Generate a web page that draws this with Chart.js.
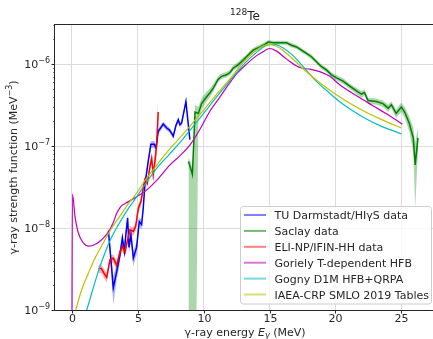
<!DOCTYPE html>
<html>
<head>
<meta charset="utf-8">
<script src="https://cdn.jsdelivr.net/npm/chart.js@4.4.0/dist/chart.umd.min.js"></script>
<style>
  html, body { margin: 0; padding: 0; overflow: hidden; background: #fff; }
</style>
</head>
<body>
<canvas id="strengthChart" width="437" height="339"></canvas>
<script>
// axis ticks
const xTicks = [0, 5, 10, 15, 20, 25];
const yDecades = [1e-9, 1e-8, 1e-7, 1e-6];
const yDecadeLabels = ['\u22129', '\u22128', '\u22127', '\u22126'];

// TU Darmstadt / HIgS (blue)
const tuE  = [2.78, 2.95, 3.15, 3.41, 3.66, 3.84, 3.99, 4.12, 4.24, 4.34, 4.49, 4.67, 4.92, 5.12, 5.3, 5.42, 5.55, 5.8, 6.0, 6.26, 6.39, 6.56, 6.94, 7.2, 7.4, 7.6, 7.7, 7.9, 8.08, 8.2, 8.33, 8.5, 8.66, 8.8, 8.96];
const tuF  = [9.3e-9, 4.5e-9, 1.86e-9, 2.95e-9, 4.7e-9, 7.6e-9, 5.2e-9, 8.9e-9, 1.32e-8, 5.8e-9, 8.3e-9, 4.3e-9, 5.8e-9, 1.2e-8, 1.1e-8, 1.74e-8, 3.4e-8, 6.5e-8, 1.05e-7, 1.05e-7, 9.5e-8, 1.51e-7, 1.86e-7, 1.66e-7, 1.58e-7, 1.41e-7, 1.32e-7, 1.78e-7, 2.1e-7, 1.82e-7, 1.9e-7, 2.6e-7, 3.5e-7, 2.1e-7, 1.2e-7];
const tuLo = [8.0e-9, 3.7e-9, 1.15e-9, 2.3e-9, 3.9e-9, 6.5e-9, 4.3e-9, 7.7e-9, 1.15e-8, 4.8e-9, 7.1e-9, 3.4e-9, 4.8e-9, 1.05e-8, 9.6e-9, 1.55e-8, 3.05e-8, 5.9e-8, 9.5e-8, 9.5e-8, 8.6e-8, 1.38e-7, 1.72e-7, 1.54e-7, 1.47e-7, 1.31e-7, 1.22e-7, 1.66e-7, 1.96e-7, 1.7e-7, 1.77e-7, 2.43e-7, 3.27e-7, 1.95e-7, 1.1e-7];
const tuHi = [1.07e-8, 5.4e-9, 2.6e-9, 3.6e-9, 5.5e-9, 8.7e-9, 6.1e-9, 1.01e-8, 1.5e-8, 6.8e-9, 9.5e-9, 5.2e-9, 6.8e-9, 1.35e-8, 1.24e-8, 1.93e-8, 3.75e-8, 7.1e-8, 1.15e-7, 1.15e-7, 1.04e-7, 1.64e-7, 2.0e-7, 1.78e-7, 1.69e-7, 1.51e-7, 1.42e-7, 1.9e-7, 2.24e-7, 1.94e-7, 2.03e-7, 2.77e-7, 3.73e-7, 2.25e-7, 1.3e-7];

// Saclay (green)
const sacE  = [8.85, 9.15, 9.35, 9.6, 9.85, 10.23, 10.5, 10.73, 11.1, 11.36, 11.74, 12.0, 12.24, 12.62, 13.0, 13.38, 13.76, 14.27, 14.64, 14.9, 15.27, 15.78, 16.29, 16.67, 17.05, 17.42, 17.8, 18.18, 18.56, 18.94, 19.32, 19.7, 20.08, 20.58, 21.08, 21.6, 21.97, 22.2, 22.47, 23.1, 23.6, 24.0, 24.24, 24.6, 25.0, 25.25, 25.6, 25.9, 26.05, 26.26];
const sacF  = [6.5e-8, 4.5e-8, 2.6e-7, 2.5e-7, 3.3e-7, 4.0e-7, 4.5e-7, 5.1e-7, 6.5e-7, 7.1e-7, 7.4e-7, 7.9e-7, 8.9e-7, 9.8e-7, 1.12e-6, 1.29e-6, 1.48e-6, 1.62e-6, 1.74e-6, 1.86e-6, 1.82e-6, 1.82e-6, 1.82e-6, 1.7e-6, 1.62e-6, 1.48e-6, 1.35e-6, 1.23e-6, 1.07e-6, 9.3e-7, 8.5e-7, 7.4e-7, 6.8e-7, 6.2e-7, 5.4e-7, 4.7e-7, 4.3e-7, 4.5e-7, 3.6e-7, 3.5e-7, 3.3e-7, 2.9e-7, 3.2e-7, 2.5e-7, 3.0e-7, 2.6e-7, 1.9e-7, 1.26e-7, 5.9e-8, 1.26e-7];
const sacLo = [1e-11, 1e-11, 1e-11, 2.1e-7, 2.8e-7, 3.5e-7, 4.0e-7, 4.6e-7, 6.0e-7, 6.6e-7, 6.9e-7, 7.3e-7, 8.3e-7, 9.1e-7, 1.04e-6, 1.2e-6, 1.38e-6, 1.52e-6, 1.63e-6, 1.75e-6, 1.72e-6, 1.72e-6, 1.72e-6, 1.6e-6, 1.53e-6, 1.39e-6, 1.27e-6, 1.15e-6, 1.0e-6, 8.7e-7, 7.9e-7, 6.9e-7, 6.3e-7, 5.7e-7, 5.0e-7, 4.3e-7, 3.9e-7, 4.1e-7, 3.3e-7, 3.2e-7, 3.0e-7, 2.6e-7, 2.9e-7, 2.2e-7, 2.6e-7, 2.2e-7, 1.5e-7, 8.5e-8, 1.7e-8, 9.0e-8];
const sacHi = [7.5e-8, 5.5e-8, 3.2e-7, 3.0e-7, 3.9e-7, 4.6e-7, 5.1e-7, 5.7e-7, 7.1e-7, 7.7e-7, 8.0e-7, 8.5e-7, 9.6e-7, 1.06e-6, 1.2e-6, 1.38e-6, 1.58e-6, 1.72e-6, 1.85e-6, 1.97e-6, 1.93e-6, 1.93e-6, 1.93e-6, 1.8e-6, 1.72e-6, 1.57e-6, 1.43e-6, 1.31e-6, 1.14e-6, 9.9e-7, 9.1e-7, 7.9e-7, 7.3e-7, 6.7e-7, 5.8e-7, 5.1e-7, 4.7e-7, 4.9e-7, 3.9e-7, 3.8e-7, 3.6e-7, 3.2e-7, 3.5e-7, 2.8e-7, 3.4e-7, 3.0e-7, 2.3e-7, 1.7e-7, 1.1e-7, 1.7e-7];

// ELI-NP / IFIN-HH (red)
const eliE  = [2.02, 2.25, 2.45, 2.65, 2.9, 3.15, 3.41, 3.66, 3.84, 4.04, 4.21, 4.42, 4.67, 4.85, 5.05, 5.25, 5.42, 5.55, 5.73, 5.93, 6.06, 6.18, 6.31, 6.44, 6.56];
const eliF  = [3.2e-9, 3.2e-9, 2.8e-9, 2.5e-9, 4.1e-9, 4.3e-9, 3.5e-9, 5.1e-9, 6.0e-9, 5.1e-9, 6.9e-9, 9.5e-9, 9.1e-9, 1.05e-8, 1.74e-8, 2.1e-8, 3.1e-8, 3.9e-8, 3.5e-8, 5.6e-8, 7.1e-8, 4.5e-8, 6.5e-8, 1.05e-7, 2.6e-7];
const eliLo = [2.8e-9, 2.8e-9, 2.45e-9, 2.15e-9, 3.6e-9, 3.8e-9, 3.05e-9, 4.5e-9, 5.3e-9, 4.5e-9, 6.1e-9, 8.4e-9, 8.0e-9, 9.3e-9, 1.54e-8, 1.86e-8, 2.75e-8, 3.45e-8, 3.1e-8, 4.9e-8, 6.1e-8, 3.5e-8, 5.2e-8, 8.0e-8, 1.4e-7];
const eliHi = [3.6e-9, 3.6e-9, 3.15e-9, 2.85e-9, 4.6e-9, 4.8e-9, 3.95e-9, 5.7e-9, 6.7e-9, 5.7e-9, 7.7e-9, 1.06e-8, 1.02e-8, 1.17e-8, 1.94e-8, 2.34e-8, 3.45e-8, 4.35e-8, 3.9e-8, 6.3e-8, 8.1e-8, 5.5e-8, 7.8e-8, 1.3e-7, 4.2e-7];

// Goriely T-dependent HFB (magenta)
const gorE = [0, 0.05, 0.25, 0.5, 0.88, 1.26, 1.77, 2.27, 2.78, 3.15, 3.41, 3.66, 4.3, 5.0, 5.55, 6.5, 7.45, 8.2, 9.0, 9.7, 10.5, 11.2, 11.74, 12.5, 13.26, 14.0, 14.5, 15.0, 15.5, 16.3, 17.05, 17.5, 18.05, 18.8, 19.57, 20.33, 21.6, 22.85, 24.1, 25.07];
const gorF = [1e-11, 2.6e-8, 1.38e-8, 8.7e-9, 6.6e-9, 6.0e-9, 6.3e-9, 7.2e-9, 8.9e-9, 1.17e-8, 1.51e-8, 1.78e-8, 2.1e-8, 2.45e-8, 2.8e-8, 3.9e-8, 5.9e-8, 7.6e-8, 1.05e-7, 1.58e-7, 2.7e-7, 3.9e-7, 5.2e-7, 7.6e-7, 1.0e-6, 1.26e-6, 1.41e-6, 1.55e-6, 1.45e-6, 1.15e-6, 9.5e-7, 8.9e-7, 8.7e-7, 8.1e-7, 7.1e-7, 5.6e-7, 4.1e-7, 3.1e-7, 2.35e-7, 1.86e-7];

// Gogny D1M HFB+QRPA (cyan)
const gogE = [0.9, 1.14, 1.5, 2.0, 2.5, 3.0, 3.5, 4.3, 5.0, 5.55, 6.5, 7.45, 8.2, 9.0, 10.0, 11.0, 12.0, 13.0, 14.0, 14.8, 15.4, 16.0, 16.8, 17.5, 18.5, 19.5, 20.5, 22.0, 23.5, 25.0];
const gogF = [7.5e-10, 1.0e-9, 1.58e-9, 2.9e-9, 4.9e-9, 7.6e-9, 1.07e-8, 1.74e-8, 2.5e-8, 3.4e-8, 5.5e-8, 8.1e-8, 1.1e-7, 1.58e-7, 2.5e-7, 4.0e-7, 6.3e-7, 9.8e-7, 1.38e-6, 1.7e-6, 1.74e-6, 1.58e-6, 1.26e-6, 9.5e-7, 6.3e-7, 4.5e-7, 3.3e-7, 2.3e-7, 1.74e-7, 1.41e-7];

// IAEA-CRP SMLO 2019 (olive)
const smloE = [0.3, 0.76, 1.26, 1.77, 2.4, 3.0, 3.8, 4.3, 4.8, 5.55, 6.5, 7.45, 8.2, 9.0, 10.0, 11.0, 12.0, 13.0, 14.0, 14.5, 15.0, 15.5, 16.0, 16.5, 17.0, 17.5, 18.5, 19.5, 20.5, 22.0, 23.5, 25.0];
const smloF = [1.0e-9, 1.78e-9, 2.8e-9, 4.3e-9, 6.6e-9, 9.8e-9, 1.51e-8, 2.0e-8, 2.5e-8, 3.8e-8, 6.0e-8, 9.3e-8, 1.26e-7, 1.78e-7, 2.75e-7, 4.3e-7, 6.6e-7, 1.05e-6, 1.48e-6, 1.66e-6, 1.74e-6, 1.66e-6, 1.48e-6, 1.26e-6, 1.07e-6, 8.9e-7, 6.5e-7, 4.9e-7, 3.8e-7, 2.75e-7, 2.1e-7, 1.66e-7];

const FONT = 'DejaVu Sans';

function pts(xs, ys) {
    return xs.map((x, i) => ({ x: x, y: ys[i] }));
}

function isDecade(v) {
    const l = Math.log10(v);
    return Math.abs(l - Math.round(l)) < 1e-6;
}

// all log ticks (decades + minors) between 1e-9 and 3e-6
const yAllTicks = [];
for (let p = -9; p <= -6; p++) {
    for (let m = 1; m <= 9; m++) {
        const v = m * Math.pow(10, p);
        if (v <= 3.0001e-6) yAllTicks.push(v);
    }
}

function richText(ctx, segs, cx, baseY) {
    let total = 0;
    segs.forEach(s => {
        ctx.font = (s.italic ? 'italic ' : '') + s.size + 'px "' + FONT + '"';
        s.w = ctx.measureText(s.t).width;
        total += s.w;
    });
    let x = cx - total / 2;
    segs.forEach(s => {
        ctx.font = (s.italic ? 'italic ' : '') + s.size + 'px "' + FONT + '"';
        ctx.fillText(s.t, x, baseY + (s.dy || 0));
        x += s.w;
    });
}

const decorations = {
    id: 'decorations',
    afterDraw(chart) {
        const ctx = chart.ctx;
        const a = chart.chartArea;
        const xs = chart.scales.x;
        const ys = chart.scales.y;
        ctx.save();

        // spines
        ctx.strokeStyle = '#262626';
        ctx.lineWidth = 1;
        ctx.strokeRect(a.left - 0.5, a.top - 0.5, a.right - a.left + 1, a.bottom - a.top + 1);

        // x ticks and labels
        ctx.fillStyle = '#262626';
        ctx.textAlign = 'center';
        ctx.textBaseline = 'alphabetic';
        ctx.font = '11px "' + FONT + '"';
        xTicks.forEach(t => {
            const px = Math.round(xs.getPixelForValue(t)) + 0.5;
            ctx.beginPath();
            ctx.moveTo(px, a.bottom);
            ctx.lineTo(px, a.bottom + 3.5);
            ctx.stroke();
            ctx.fillText(String(t), px, 322);
        });

        // y ticks
        yAllTicks.forEach(v => {
            const py = Math.round(ys.getPixelForValue(v)) + 0.5;
            const len = isDecade(v) ? 3.5 : 2;
            ctx.beginPath();
            ctx.moveTo(a.left, py);
            ctx.lineTo(a.left - len, py);
            ctx.lineWidth = isDecade(v) ? 1 : 0.6;
            ctx.stroke();
        });
        ctx.lineWidth = 1;

        // y labels 10^n
        yDecades.forEach((v, i) => {
            const py = ys.getPixelForValue(v);
            ctx.font = '8px "' + FONT + '"';
            const we = ctx.measureText(yDecadeLabels[i]).width;
            ctx.font = '11px "' + FONT + '"';
            const wb = ctx.measureText('10').width;
            const right = 50;
            ctx.textAlign = 'left';
            ctx.fillText('10', right - we - wb, py + 4);
            ctx.font = '8px "' + FONT + '"';
            ctx.fillText(yDecadeLabels[i], right - we, py - 1);
        });

        // title
        ctx.textAlign = 'left';
        richText(ctx, [
            { t: '128', size: 9, dy: -4.5 },
            { t: 'Te', size: 12 }
        ], 245, 19.5);

        // x title
        richText(ctx, [
            { t: '\u03b3-ray energy ', size: 11 },
            { t: 'E', size: 11, italic: true },
            { t: '\u03b3', size: 8, italic: true, dy: 2 },
            { t: ' (MeV)', size: 11 }
        ], 245, 336);

        // y title
        ctx.save();
        ctx.translate(16.5, (a.top + a.bottom) / 2);
        ctx.rotate(-Math.PI / 2);
        richText(ctx, [
            { t: '\u03b3-ray strength function (MeV', size: 11 },
            { t: '\u22123', size: 8, dy: -4.5 },
            { t: ')', size: 11 }
        ], 0, 0);
        ctx.restore();

        // legend
        const items = chart.data.datasets.filter(d => d.inLegend);
        const bx = 240.5, by = 206.5, bw = 191, bh = 97.5;
        ctx.beginPath();
        ctx.roundRect(bx, by, bw, bh, 3);
        ctx.fillStyle = 'rgba(255,255,255,0.8)';
        ctx.fill();
        ctx.strokeStyle = '#cccccc';
        ctx.lineWidth = 1;
        ctx.stroke();
        ctx.font = '11px "' + FONT + '"';
        ctx.textAlign = 'left';
        items.forEach((d, i) => {
            const cy = 215 + i * 15.9;
            ctx.strokeStyle = d.legendColor;
            ctx.lineWidth = 2;
            ctx.beginPath();
            ctx.moveTo(244, cy);
            ctx.lineTo(266, cy);
            ctx.stroke();
            ctx.fillStyle = '#262626';
            ctx.fillText(d.label, 274.5, cy + 4);
        });

        ctx.restore();
    }
};

function bandSets(xs, hi, lo, color, order) {
    return [
        { label: 'hi', data: pts(xs, hi), borderWidth: 0, pointRadius: 0, backgroundColor: color, fill: '+1', order: order, tension: 0 },
        { label: 'lo', data: pts(xs, lo), borderWidth: 0, pointRadius: 0, backgroundColor: color, fill: false, order: order, tension: 0 }
    ];
}

function lineSet(label, xs, ys, color, legendColor, width, order, smooth) {
    return {
        label: label, data: pts(xs, ys), borderColor: color, borderWidth: width,
        pointRadius: 0, fill: false, order: order, inLegend: true, legendColor: legendColor,
        tension: 0, cubicInterpolationMode: smooth ? 'monotone' : 'default'
    };
}

const datasets = [].concat(
    bandSets(tuE, tuHi, tuLo, 'rgba(0,0,255,0.3)', 20),
    bandSets(sacE, sacHi, sacLo, 'rgba(0,128,0,0.32)', 20),
    bandSets(eliE, eliHi, eliLo, 'rgba(255,0,0,0.3)', 20),
    [
        lineSet('TU Darmstadt/HI\u03b3S data', tuE, tuF, '#0000ff', 'rgba(0,0,255,0.5)', 1.5, 6, false),
        lineSet('Saclay data', sacE, sacF, '#008000', 'rgba(0,128,0,0.55)', 1.5, 5, false),
        lineSet('ELI-NP/IFIN-HH data', eliE, eliF, '#ff0000', 'rgba(255,0,0,0.5)', 1.5, 4, false),
        lineSet('Goriely T-dependent HFB', gorE, gorF, '#bf00bf', 'rgba(191,0,191,0.55)', 1.2, 3, true),
        lineSet('Gogny D1M HFB+QRPA', gogE, gogF, '#00bfbf', 'rgba(0,191,191,0.55)', 1.2, 2, true),
        lineSet('IAEA-CRP SMLO 2019 Tables', smloE, smloF, '#bfbf00', 'rgba(191,191,0,0.55)', 1.2, 1, true)
    ]
);

new Chart(document.getElementById('strengthChart'), {
    type: 'line',
    data: { datasets: datasets },
    options: {
        responsive: false,
        animation: false,
        layout: { padding: { top: 25, right: 2, left: 0, bottom: 0 } },
        scales: {
            x: {
                type: 'linear', min: -1.27, max: 27.55,
                afterBuildTicks: s => { s.ticks = xTicks.map(v => ({ value: v })); },
                afterFit: s => { s.height = 29; },
                ticks: { display: false },
                grid: { color: '#dcdcdc', drawTicks: false },
                border: { display: false }
            },
            y: {
                type: 'logarithmic', min: 1e-9, max: 3e-6,
                afterBuildTicks: s => { s.ticks = yAllTicks.map(v => ({ value: v })); },
                afterFit: s => { s.width = 55; },
                ticks: { display: false },
                grid: {
                    color: c => (c.tick && isDecade(c.tick.value)) ? '#dcdcdc' : 'rgba(0,0,0,0)',
                    drawTicks: false
                },
                border: { display: false }
            }
        },
        plugins: {
            legend: { display: false },
            title: { display: false },
            tooltip: { enabled: false }
        }
    },
    plugins: [decorations]
});
</script>
</body>
</html>
